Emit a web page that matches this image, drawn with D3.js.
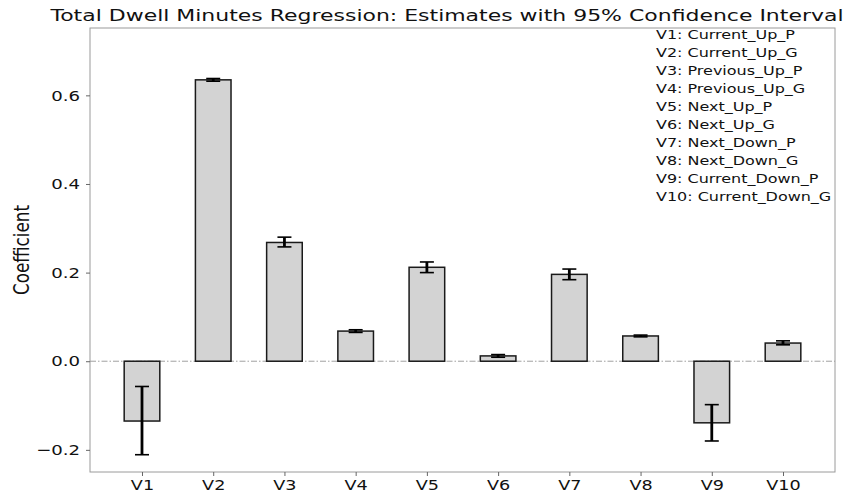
<!DOCTYPE html>
<html>
<head>
<meta charset="utf-8">
<script src="https://cdn.jsdelivr.net/npm/d3@7"></script>
<style>
  html, body { margin: 0; padding: 0; background: #fff; }
  svg { display: block; }
  text { fill: #111; }
</style>
</head>
<body>
<svg id="chart" width="846" height="494" font-family="DejaVu Sans, sans-serif"></svg>
<script>
// Regression coefficients with 95% confidence bounds
const categories = ["V1", "V2", "V3", "V4", "V5", "V6", "V7", "V8", "V9", "V10"];
const estimates  = [-0.135, 0.635, 0.268, 0.068, 0.212, 0.012, 0.196, 0.057, -0.139, 0.041];
const ciLower    = [-0.211, 0.632, 0.258, 0.065, 0.200, 0.009, 0.184, 0.055, -0.180, 0.037];
const ciUpper    = [-0.057, 0.638, 0.280, 0.071, 0.224, 0.015, 0.208, 0.059, -0.098, 0.046];
const legendLabels = [
  "V1: Current_Up_P", "V2: Current_Up_G", "V3: Previous_Up_P", "V4: Previous_Up_G",
  "V5: Next_Up_P", "V6: Next_Up_G", "V7: Next_Down_P", "V8: Next_Down_G",
  "V9: Current_Down_P", "V10: Current_Down_G"
];
const yTicks = [-0.2, 0.0, 0.2, 0.4, 0.6];

const svg = d3.select("#chart");
const plot = { left: 90, right: 835, top: 28, bottom: 472 };

const x = d3.scaleLinear().domain([-0.73, categories.length - 1 + 0.73]).range([plot.left, plot.right]);
const y = d3.scaleLinear().domain([-0.25, 0.752]).range([plot.bottom, plot.top]);
const step = x(1) - x(0);
const barW = step * 0.5;

// widen glyphs horizontally around each text's own anchor point
function widen(sel, sx) {
  sel.each(function () {
    const t = d3.select(this);
    const ax = +(t.attr("x") || 0);
    t.attr("transform", `translate(${ax},0) scale(${sx},1) translate(${-ax},0)`);
  });
}

// zero reference line
svg.append("line")
  .attr("x1", plot.left).attr("x2", plot.right)
  .attr("y1", y(0)).attr("y2", y(0))
  .attr("stroke", "#888").attr("stroke-width", 0.8)
  .attr("stroke-dasharray", "6,2,1.5,2");

// bars
svg.append("g").selectAll("rect")
  .data(estimates)
  .join("rect")
  .attr("x", (d, i) => x(i) - barW / 2)
  .attr("width", barW)
  .attr("y", d => y(Math.max(0, d)))
  .attr("height", d => Math.abs(y(d) - y(0)))
  .attr("fill", "#d3d3d3")
  .attr("stroke", "#1a1a1a")
  .attr("stroke-width", 1.5);

// error bars
const cap = 7;
const eg = svg.append("g").attr("stroke", "#000").attr("stroke-width", 2.8);
categories.forEach((c, i) => {
  const cx = x(i);
  eg.append("line").attr("x1", cx).attr("x2", cx).attr("y1", y(ciLower[i])).attr("y2", y(ciUpper[i]));
  eg.append("line").attr("x1", cx - cap).attr("x2", cx + cap).attr("y1", y(ciLower[i])).attr("y2", y(ciLower[i])).attr("stroke-width", 1.6);
  eg.append("line").attr("x1", cx - cap).attr("x2", cx + cap).attr("y1", y(ciUpper[i])).attr("y2", y(ciUpper[i])).attr("stroke-width", 1.6);
});

// frame
svg.append("rect")
  .attr("x", plot.left).attr("y", plot.top)
  .attr("width", plot.right - plot.left).attr("height", plot.bottom - plot.top)
  .attr("fill", "none").attr("stroke", "#9a9a9a").attr("stroke-width", 1);

// axes
const fmt = d => d < 0 ? "\u2212" + Math.abs(d).toFixed(1) : d.toFixed(1);
const yAxis = svg.append("g")
  .attr("transform", `translate(${plot.left},0)`)
  .call(d3.axisLeft(y).tickValues(yTicks).tickFormat(fmt).tickSize(4).tickPadding(8));
yAxis.attr("font-family", null).attr("font-size", null);
yAxis.select(".domain").remove();
yAxis.selectAll("line").attr("stroke", "#666");
yAxis.selectAll("text").attr("font-size", 14.5).attr("fill", "#111")
  .attr("x", -10).call(widen, 1.25);

const xAxis = svg.append("g")
  .attr("transform", `translate(0,${plot.bottom})`)
  .call(d3.axisBottom(x).tickValues(d3.range(categories.length)).tickFormat(i => categories[i]).tickSize(4).tickPadding(5));
xAxis.attr("font-family", null).attr("font-size", null);
xAxis.select(".domain").remove();
xAxis.selectAll("line").attr("stroke", "#666");
xAxis.selectAll("text").attr("font-size", 14).attr("fill", "#111")
  .attr("dy", null).attr("y", 18).call(widen, 1.26);

// y label (narrow face)
svg.append("text")
  .attr("transform", `translate(29,250) rotate(-90)`)
  .attr("text-anchor", "middle")
  .style("font-family", "'DejaVu Sans Condensed', 'Liberation Sans Narrow', 'DejaVu Sans', sans-serif")
  .style("font-stretch", "condensed")
  .attr("font-size", 21)
  .attr("textLength", 90)
  .attr("lengthAdjust", "spacingAndGlyphs")
  .text("Coefficient");

// title
svg.append("text")
  .attr("x", 447)
  .attr("y", 21)
  .attr("text-anchor", "middle")
  .attr("font-size", 15)
  .attr("textLength", 793)
  .attr("lengthAdjust", "spacingAndGlyphs")
  .text("Total Dwell Minutes Regression: Estimates with 95% Confidence Interval");

// variable legend
const leg = svg.append("g").selectAll("text")
  .data(legendLabels)
  .join("text")
  .attr("x", 656)
  .attr("y", (d, i) => 39.5 + i * 17.9)
  .attr("font-size", 11.5)
  .text(d => d);
widen(leg, 1.39);
</script>
</body>
</html>
